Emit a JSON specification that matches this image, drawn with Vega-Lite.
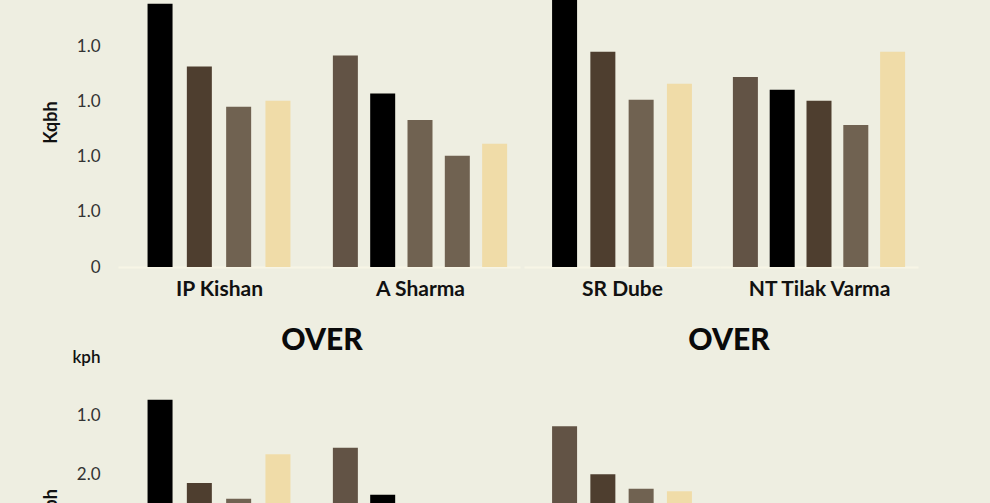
{
  "$schema": "https://vega.github.io/schema/vega-lite/v6.json",
  "background": "#eeeee1",
  "padding": {"left": 42, "top": 0, "right": 72, "bottom": 5},
  "datasets": {
    "bars": [
      {"row": "top", "player": "IP Kishan", "delivery": "1", "type": "A", "kph": 4.78},
      {"row": "top", "player": "IP Kishan", "delivery": "2", "type": "B", "kph": 3.64},
      {"row": "top", "player": "IP Kishan", "delivery": "3", "type": "D", "kph": 2.91},
      {"row": "top", "player": "IP Kishan", "delivery": "4", "type": "E", "kph": 3.02},
      {"row": "top", "player": "A Sharma", "delivery": "1", "type": "C", "kph": 3.84},
      {"row": "top", "player": "A Sharma", "delivery": "2", "type": "A", "kph": 3.15},
      {"row": "top", "player": "A Sharma", "delivery": "3", "type": "D", "kph": 2.67},
      {"row": "top", "player": "A Sharma", "delivery": "4", "type": "D", "kph": 2.02},
      {"row": "top", "player": "A Sharma", "delivery": "5", "type": "E", "kph": 2.24},
      {"row": "top", "player": "SR Dube", "delivery": "1", "type": "A", "kph": 5.3},
      {"row": "top", "player": "SR Dube", "delivery": "2", "type": "B", "kph": 3.91},
      {"row": "top", "player": "SR Dube", "delivery": "3", "type": "D", "kph": 3.04},
      {"row": "top", "player": "SR Dube", "delivery": "4", "type": "E", "kph": 3.33},
      {"row": "top", "player": "NT Tilak Varma", "delivery": "1", "type": "C", "kph": 3.45},
      {"row": "top", "player": "NT Tilak Varma", "delivery": "2", "type": "A", "kph": 3.22},
      {"row": "top", "player": "NT Tilak Varma", "delivery": "3", "type": "B", "kph": 3.02},
      {"row": "top", "player": "NT Tilak Varma", "delivery": "4", "type": "D", "kph": 2.58},
      {"row": "top", "player": "NT Tilak Varma", "delivery": "5", "type": "E", "kph": 3.91},
      {"row": "bottom", "player": "IP Kishan", "delivery": "1", "type": "A", "kph": 4.27},
      {"row": "bottom", "player": "IP Kishan", "delivery": "2", "type": "B", "kph": 2.85},
      {"row": "bottom", "player": "IP Kishan", "delivery": "3", "type": "D", "kph": 2.58},
      {"row": "bottom", "player": "IP Kishan", "delivery": "4", "type": "E", "kph": 3.34},
      {"row": "bottom", "player": "A Sharma", "delivery": "1", "type": "C", "kph": 3.45},
      {"row": "bottom", "player": "A Sharma", "delivery": "2", "type": "A", "kph": 2.65},
      {"row": "bottom", "player": "A Sharma", "delivery": "3", "type": "D", "kph": 2.2},
      {"row": "bottom", "player": "A Sharma", "delivery": "4", "type": "D", "kph": 1.8},
      {"row": "bottom", "player": "A Sharma", "delivery": "5", "type": "E", "kph": 2.1},
      {"row": "bottom", "player": "SR Dube", "delivery": "1", "type": "C", "kph": 3.82},
      {"row": "bottom", "player": "SR Dube", "delivery": "2", "type": "B", "kph": 3.0},
      {"row": "bottom", "player": "SR Dube", "delivery": "3", "type": "D", "kph": 2.75},
      {"row": "bottom", "player": "SR Dube", "delivery": "4", "type": "E", "kph": 2.71},
      {"row": "bottom", "player": "NT Tilak Varma", "delivery": "1", "type": "C", "kph": 2.3},
      {"row": "bottom", "player": "NT Tilak Varma", "delivery": "2", "type": "A", "kph": 2.1},
      {"row": "bottom", "player": "NT Tilak Varma", "delivery": "3", "type": "B", "kph": 1.9},
      {"row": "bottom", "player": "NT Tilak Varma", "delivery": "4", "type": "D", "kph": 1.6},
      {"row": "bottom", "player": "NT Tilak Varma", "delivery": "5", "type": "E", "kph": 2.4}
    ]
  },
  "spacing": 27,
  "resolve": {"scale": {"x": "independent", "y": "independent"}},
  "vconcat": [
    {
      "spacing": 4,
      "resolve": {"scale": {"x": "independent", "y": "independent"}},
      "hconcat": [
        {
          "spacing": 0,
          "resolve": {"scale": {"x": "independent", "y": "independent"}},
          "hconcat": [
            {
              "width": 202, "height": 267,
              "data": {"name": "bars"},
              "transform": [{"filter": "datum.row == 'top' && datum.player == 'IP Kishan'"}],
              "mark": {"type": "bar", "width": 25, "clip": true},
              "encoding": {
                "x": {"field": "delivery", "type": "ordinal", "scale": {"paddingInner": 0, "paddingOuter": 0.57}, "axis": {"title": "IP Kishan"}},
                "y": {"field": "kph", "type": "quantitative", "scale": {"domain": [0, 4.85]},
                  "axis": {"title": "Kqbh", "titleY": 122, "values": [0, 1, 2, 3, 4], "labelExpr": "datum.value == 0 ? '0' : '1.0'"}},
                "color": {"field": "type", "type": "nominal", "legend": null,
                  "scale": {"domain": ["A", "B", "C", "D", "E"], "range": ["#000000", "#4e3e2f", "#625345", "#706251", "#f0dca8"]}}
              }
            },
            {
              "width": 200, "height": 267,
              "data": {"name": "bars"},
              "transform": [{"filter": "datum.row == 'top' && datum.player == 'A Sharma'"}],
              "mark": {"type": "bar", "width": 25, "clip": true},
              "encoding": {
                "x": {"field": "delivery", "type": "ordinal", "scale": {"paddingInner": 0, "paddingOuter": 0.18}, "axis": {"title": "A Sharma"}},
                "y": {"field": "kph", "type": "quantitative", "scale": {"domain": [0, 4.85]}, "axis": null},
                "color": {"field": "type", "type": "nominal", "legend": null}
              }
            }
          ]
        },
        {
          "spacing": 0,
          "resolve": {"scale": {"x": "independent", "y": "independent"}},
          "hconcat": [
            {
              "width": 196, "height": 267,
              "data": {"name": "bars"},
              "transform": [{"filter": "datum.row == 'top' && datum.player == 'SR Dube'"}],
              "mark": {"type": "bar", "width": 25, "clip": true},
              "encoding": {
                "x": {"field": "delivery", "type": "ordinal", "scale": {"paddingInner": 0, "paddingOuter": 0.56}, "axis": {"title": "SR Dube"}},
                "y": {"field": "kph", "type": "quantitative", "scale": {"domain": [0, 4.85]}, "axis": null},
                "color": {"field": "type", "type": "nominal", "legend": null}
              }
            },
            {
              "width": 198, "height": 267,
              "data": {"name": "bars"},
              "transform": [{"filter": "datum.row == 'top' && datum.player == 'NT Tilak Varma'"}],
              "mark": {"type": "bar", "width": 25, "clip": true},
              "encoding": {
                "x": {"field": "delivery", "type": "ordinal", "scale": {"paddingInner": 0, "paddingOuter": 0.19}, "axis": {"title": "NT Tilak Varma"}},
                "y": {"field": "kph", "type": "quantitative", "scale": {"domain": [0, 4.85]}, "axis": null},
                "color": {"field": "type", "type": "nominal", "legend": null}
              }
            }
          ]
        }
      ]
    },
    {
      "spacing": 4,
      "resolve": {"scale": {"x": "independent", "y": "independent"}},
      "hconcat": [
        {
          "title": {"text": "OVER", "baseline": "alphabetic", "offset": -32, "dx": 41},
          "spacing": 0,
          "resolve": {"scale": {"x": "independent", "y": "independent"}},
          "hconcat": [
            {
              "width": 202, "height": 293,
              "data": {"name": "bars"},
              "transform": [{"filter": "datum.row == 'bottom' && datum.player == 'IP Kishan'"}],
              "mark": {"type": "bar", "width": 25, "clip": true},
              "encoding": {
                "x": {"field": "delivery", "type": "ordinal", "scale": {"paddingInner": 0, "paddingOuter": 0.57}, "axis": null},
                "y": {"field": "kph", "type": "quantitative", "scale": {"domain": [0, 5]},
                  "axis": {"title": "kph", "values": [0, 1, 2, 3, 4, 5],
                    "labelExpr": "datum.value == 5 ? 'kph' : datum.value == 3 ? '2.0' : datum.value == 0 ? '0' : '1.0'",
                    "labelFontWeight": {"condition": {"test": "datum.value == 5", "value": 600}, "value": "normal"},
                    "labelColor": {"condition": {"test": "datum.value == 5", "value": "#111111"}, "value": "#333333"}}},
                "color": {"field": "type", "type": "nominal", "legend": null}
              }
            },
            {
              "width": 200, "height": 293,
              "data": {"name": "bars"},
              "transform": [{"filter": "datum.row == 'bottom' && datum.player == 'A Sharma'"}],
              "mark": {"type": "bar", "width": 25, "clip": true},
              "encoding": {
                "x": {"field": "delivery", "type": "ordinal", "scale": {"paddingInner": 0, "paddingOuter": 0.18}, "axis": null},
                "y": {"field": "kph", "type": "quantitative", "scale": {"domain": [0, 5]}, "axis": null},
                "color": {"field": "type", "type": "nominal", "legend": null}
              }
            }
          ]
        },
        {
          "title": {"text": "OVER", "baseline": "alphabetic", "offset": -23, "dx": 8},
          "spacing": 0,
          "resolve": {"scale": {"x": "independent", "y": "independent"}},
          "hconcat": [
            {
              "width": 196, "height": 293,
              "data": {"name": "bars"},
              "transform": [{"filter": "datum.row == 'bottom' && datum.player == 'SR Dube'"}],
              "mark": {"type": "bar", "width": 25, "clip": true},
              "encoding": {
                "x": {"field": "delivery", "type": "ordinal", "scale": {"paddingInner": 0, "paddingOuter": 0.56}, "axis": null},
                "y": {"field": "kph", "type": "quantitative", "scale": {"domain": [0, 5]}, "axis": null},
                "color": {"field": "type", "type": "nominal", "legend": null}
              }
            },
            {
              "width": 198, "height": 293,
              "data": {"name": "bars"},
              "transform": [{"filter": "datum.row == 'bottom' && datum.player == 'NT Tilak Varma'"}],
              "mark": {"type": "bar", "width": 25, "clip": true},
              "encoding": {
                "x": {"field": "delivery", "type": "ordinal", "scale": {"paddingInner": 0, "paddingOuter": 0.19}, "axis": null},
                "y": {"field": "kph", "type": "quantitative", "scale": {"domain": [0, 5]}, "axis": null},
                "color": {"field": "type", "type": "nominal", "legend": null}
              }
            }
          ]
        }
      ]
    }
  ],
  "config": {
    "font": "Lato",
    "view": {"stroke": null},
    "axisX": {"labels": false, "ticks": false, "grid": false, "domainColor": "#f7f5e6", "domainWidth": 2,
      "titleFontSize": 21, "titleFontWeight": "bold", "titleColor": "#111111", "titlePadding": 11, "minExtent": 0, "maxExtent": 0},
    "axisY": {"ticks": false, "domain": false, "grid": false, "labelFontSize": 17, "labelColor": "#333333", "labelPadding": 18,
      "minExtent": 44, "maxExtent": 44, "titleFontSize": 18, "titleFontWeight": "bold", "titleColor": "#111111", "titlePadding": 14},
    "title": {"fontSize": 30, "fontWeight": 900, "color": "#0a0a0a", "anchor": "middle"}
  }
}
